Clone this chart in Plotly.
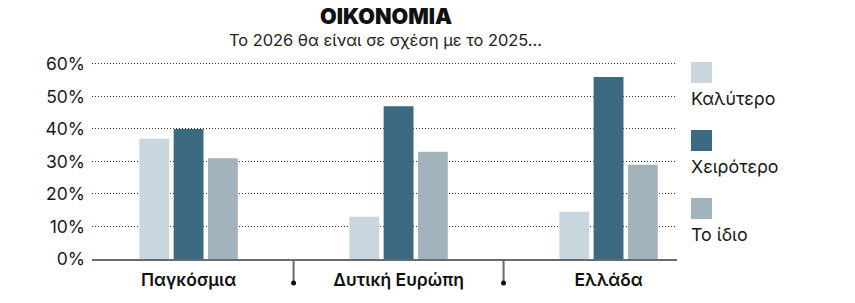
import plotly.graph_objects as go

# ---- data ----
categories = ["Παγκόσμια", "Δυτική Ευρώπη", "Ελλάδα"]
series_names = ["Καλύτερο", "Χειρότερο", "Το ίδιο"]
better = [37, 13, 14.5]
worse = [40, 47, 56]
same = [31, 33, 29]
y_ticks = [0, 10, 20, 30, 40, 50, 60]
y_tick_labels = ["0%", "10%", "20%", "30%", "40%", "50%", "60%"]
title_text = "ΟΙΚΟΝΟΜΙΑ"
subtitle_text = "Το 2026 θα είναι σε σχέση με το 2025..."

colors = ["#c9d6de", "#3b6a82", "#a3b3bc"]
values = [better, worse, same]

W, H = 855, 303
ML, MR, MT, MB = 92, 178, 62, 44
PW, PH = W - ML - MR, H - MT - MB


def px_x(x):
    return (x - ML) / PW


def px_y(y):
    return (H - MB - y) / PH


FONT = "Inter"

fig = go.Figure()
for name, vals, col in zip(series_names, values, colors):
    fig.add_trace(go.Bar(x=list(range(len(categories))), y=vals, name=name,
                         marker=dict(color=col, line=dict(width=0)),
                         showlegend=False))

fig.update_layout(
    width=W, height=H,
    margin=dict(l=ML, r=MR, t=MT, b=MB),
    paper_bgcolor="white", plot_bgcolor="white",
    barmode="group", bargap=0.51, bargroupgap=0.13,
    font=dict(family=FONT, color="#1a1a1a"),
    xaxis=dict(range=[-0.46, 2.326], tickvals=list(range(len(categories))),
               ticktext=categories, showgrid=False, zeroline=False,
               showline=True, linecolor="#6b6b6b", linewidth=2,
               ticks="", ticklabelstandoff=4,
               tickfont=dict(size=17.5, family=FONT, weight=600, color="#111"),
               fixedrange=True),
    yaxis=dict(range=[0, 60.6], tickvals=y_ticks, ticktext=y_tick_labels,
               showgrid=True, griddash="1px,2px", gridcolor="#333", gridwidth=1,
               zeroline=False, showline=False, ticks="",
               ticklabelstandoff=6,
               tickfont=dict(size=17.5, family=FONT, color="#1a1a1a"),
               fixedrange=True),
)

# title & subtitle
fig.add_annotation(text=title_text, xref="paper", yref="paper",
                   x=px_x(386), y=px_y(16), showarrow=False,
                   xanchor="center", yanchor="middle",
                   font=dict(size=21.5, family=FONT, weight=900, color="#111"))
fig.add_annotation(text=subtitle_text, xref="paper", yref="paper",
                   x=px_x(385), y=px_y(40), showarrow=False,
                   xanchor="center", yanchor="middle",
                   font=dict(size=16.4, family=FONT, color="#222"))

# category dividers
for i in range(len(categories) - 1):
    xm = i + 0.5
    fig.add_shape(type="line", xref="x", yref="paper", x0=xm, x1=xm,
                  y0=0, y1=px_y(283), line=dict(color="#6b6b6b", width=2))
    fig.add_shape(type="circle", xref="x", yref="paper",
                  xsizemode="pixel", ysizemode="pixel",
                  xanchor=xm, yanchor=px_y(283),
                  x0=-2.5, x1=2.5, y0=-2.5, y1=2.5,
                  fillcolor="#111", line=dict(width=0))

# custom legend: swatch above label
for k, (name, col) in enumerate(zip(series_names, colors)):
    top = 62 + k * 68
    fig.add_shape(type="rect", xref="paper", yref="paper",
                  x0=px_x(691), x1=px_x(712), y0=px_y(top), y1=px_y(top + 21),
                  fillcolor=col, line=dict(width=0))
    fig.add_annotation(text=name, xref="paper", yref="paper",
                       x=px_x(689), y=px_y(top + 36), showarrow=False,
                       xanchor="left", yanchor="middle",
                       font=dict(size=17.8, family=FONT, color="#1a1a1a"))

fig.write_html("out.html")
